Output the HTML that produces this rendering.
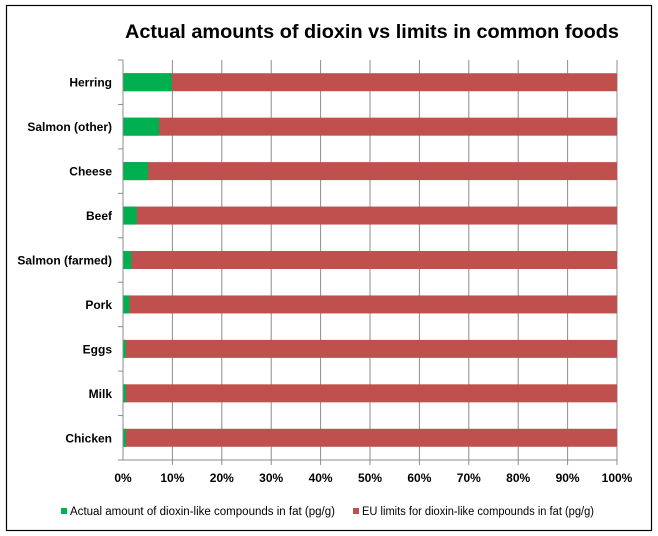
<!DOCTYPE html>
<html><head><meta charset="utf-8"><style>
html,body{margin:0;padding:0;background:#fff;}
svg{display:block;font-family:"Liberation Sans",Arial,sans-serif;}
</style></head><body>
<svg id="chart" width="658" height="536">
<rect x="6.5" y="5.5" width="645" height="525" fill="#fff" stroke="#000" stroke-width="1.2"/>
<text x="372" y="38" text-anchor="middle" font-size="19" font-weight="bold" textLength="494" lengthAdjust="spacingAndGlyphs">Actual amounts of dioxin vs limits in common foods</text>
<g id="grid"></g><g id="bars"></g><g id="axes"></g>
<g>
<rect x="61" y="508" width="6" height="6" fill="#00b050"/>
<text x="70" y="515" font-size="11.5" textLength="265" lengthAdjust="spacingAndGlyphs">Actual amount of dioxin-like compounds in fat (pg/g)</text>
<rect x="353" y="508" width="6" height="6" fill="#c0504d"/>
<text x="362" y="515" font-size="11.5" textLength="232" lengthAdjust="spacingAndGlyphs">EU limits for dioxin-like compounds in fat (pg/g)</text>
</g>
</svg>
<script>
const categories=["Herring","Salmon (other)","Cheese","Beef","Salmon (farmed)","Pork","Eggs","Milk","Chicken"];
const actualPct=[9.9,7.3,5.1,2.8,1.7,1.3,0.6,0.6,0.6];
const tickLabels=["0%","10%","20%","30%","40%","50%","60%","70%","80%","90%","100%"];
const tickValues=[0,10,20,30,40,50,60,70,80,90,100];
const NS="http://www.w3.org/2000/svg";
const X0=123,X1=617,Y0=60,Y1=460;
const band=(Y1-Y0)/categories.length;
function xs(v){return X0+(X1-X0)*v/100;}
function yc(i){return Y0+band*(i+0.5);}
function mk(t,a,p){const e=document.createElementNS(NS,t);for(const k in a)e.setAttribute(k,a[k]);p.appendChild(e);return e;}
const grid=document.getElementById('grid'),bars=document.getElementById('bars'),axes=document.getElementById('axes');
tickValues.forEach((v,i)=>{
  const x=xs(v);
  if(v>0){const g=mk('line',{x1:x,x2:x,y1:Y0,y2:Y1+5,stroke:'#8c8c8c','stroke-width':1},grid);
  
  }
  const t=mk('text',{x:x,y:Y1+22,'text-anchor':'middle','font-size':12,'font-weight':'bold'},axes);
  t.textContent=tickLabels[i];
  
  
});
categories.forEach((c,i)=>{
  const y=yc(i),h=18;
  const r=mk('rect',{x:xs(0),y:y-h/2,width:xs(100)-xs(0),height:h,fill:'#c0504d'},bars);
  
  
  const g=mk('rect',{x:xs(0),y:y-h/2,width:xs(actualPct[i])-xs(0),height:h,fill:'#00b050'},bars);
  
  
  const t=mk('text',{x:112,y:y+4.5,'text-anchor':'end','font-size':12,'font-weight':'bold'},axes);
  t.textContent=c;
  
  
});
for(let i=0;i<=categories.length;i++){
  const y=Y0+band*i;
  const l=mk('line',{x1:X0-5,x2:X0,y1:y,y2:y,stroke:'#8c8c8c'},axes);
  
  
}
const ax=mk('line',{x1:X0,x2:X0,y1:Y0,y2:Y1,stroke:'#8c8c8c'},axes);


const bx=mk('line',{x1:X0,x2:X1,y1:Y1,y2:Y1,stroke:'#8c8c8c'},axes);


</script>
</body></html>
